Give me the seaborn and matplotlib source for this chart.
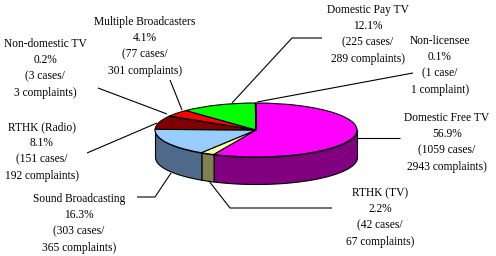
import numpy as np
import matplotlib
matplotlib.use("Agg")
import matplotlib.pyplot as plt
from matplotlib.transforms import Affine2D
import seaborn as sns

# ---- data ----
categories = ["Domestic Free TV", "RTHK (TV)", "Sound Broadcasting", "RTHK (Radio)",
              "Non-domestic TV", "Multiple Broadcasters", "Domestic Pay TV", "Non-licensee"]
percentages = [56.9, 2.2, 16.3, 8.1, 0.2, 4.1, 12.1, 0.1]
cases = [1059, 42, 303, 151, 3, 77, 225, 1]
complaints = [2943, 67, 365, 192, 3, 301, 289, 1]

top_colors = ["#FF00FF", "#FFFFA8", "#99CCFF", "#800000",
              "#600030", "#FF0000", "#00FF00", "#00FFFF"]
side_colors = ["#800080", "#808050", "#4F6A8A", "#400000",
               "#300018", "#800000", "#008000", "#008080"]

# label layout (pixel positions of the first text line centre)
label_pos = [(447, 118), (380, 193), (79, 199), (42, 127),
             (45, 44), (145, 22), (368, 10), (440, 41)]
leaders = [
    [(357, 138), (400, 138)],
    [(209, 181), (230, 208), (332, 208)],
    [(171, 173), (155, 197), (137, 197)],
    [(157, 123), (87, 153)],
    [(167, 114), (98, 88)],
    [(182, 110), (170, 80)],
    [(232, 103), (292, 38), (322, 38)],
    [(257, 102), (413, 73)],
]

sns.set_style("white")
plt.rcParams["font.family"] = ["Liberation Serif", "DejaVu Serif"]

fig = plt.figure(figsize=(4.96, 2.56), dpi=100)
ax = fig.add_axes([0, 0, 1, 1])

CX, CY, RX, RY, DEPTH = 256, 130, 101, 27, 27
LW = 0.8

# top of the pie: matplotlib wedges squashed into an ellipse
ell = Affine2D().scale(RX, -RY).translate(CX, CY) + ax.transData
ax.pie(percentages, colors=top_colors, startangle=90, counterclock=False,
       wedgeprops=dict(transform=ell, edgecolor="black", linewidth=LW, zorder=3))

# side wall of the front-facing slices
cum = np.concatenate([[0], np.cumsum(percentages)])
for i in range(len(percentages)):
    a_hi = 90 - 360 * cum[i] / 100.0
    a_lo = 90 - 360 * cum[i + 1] / 100.0
    for k in (-1, 0, 1):
        lo = max(a_lo, 180 + 360 * k)
        hi = min(a_hi, 360 + 360 * k)
        if hi - lo <= 1e-6:
            continue
        t = np.radians(np.linspace(lo, hi, 200))
        x = CX + RX * np.cos(t)
        ytop = CY - RY * np.sin(t)
        ax.fill_between(x, ytop, ytop + DEPTH, facecolor=side_colors[i],
                        edgecolor="black", linewidth=LW, zorder=2)

# leader lines
for pts in leaders:
    xs, ys = zip(*pts)
    ax.plot(xs, ys, color="black", linewidth=0.8, zorder=4, solid_capstyle="butt")

# labels
def label_lines(i):
    c, n = cases[i], complaints[i]
    return [categories[i],
            f"{percentages[i]}%",
            f"({c} case{'s' if c != 1 else ''}/",
            f"{n} complaint{'s' if n != 1 else ''})"]

LINE = 16.3
for i, (lx, ly) in enumerate(label_pos):
    for j, s in enumerate(label_lines(i)):
        ax.text(lx, ly + j * LINE, s, ha="center", va="center",
                fontsize=8.3, color="black", zorder=5)

ax.set_aspect("auto")
ax.set_xlim(0, 496)
ax.set_ylim(256, 0)
ax.axis("off")

fig.savefig("out.png", dpi=100, facecolor="white")
